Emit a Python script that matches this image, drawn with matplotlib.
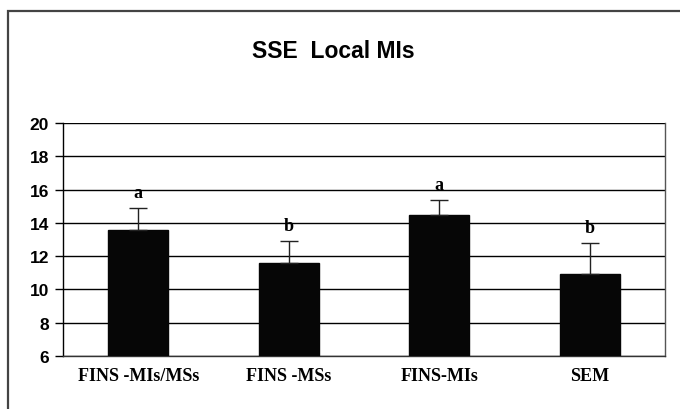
import matplotlib.pyplot as plt
from matplotlib.patches import Rectangle

groups = ["FINS -MIs/MSs", "FINS -MSs", "FINS-MIs", "SEM"]
means = [13.6, 11.6, 14.5, 10.9]
errors = [1.3, 1.3, 0.85, 1.9]
letters = ["a", "b", "a", "b"]
yticks = [6, 8, 10, 12, 14, 16, 18, 20]

fig = plt.figure(figsize=(6.8, 4.1), dpi=100, facecolor="white")

# outer chart frame (only top and left edges fall inside the image)
fig.add_artist(Rectangle((8 / 680, -0.2), 1.5, (410 - 12) / 410 + 0.2,
                         transform=fig.transFigure, fill=False,
                         edgecolor="#444444", linewidth=1.6))

ax = fig.add_axes([63 / 680, (410 - 357) / 410, 602 / 680, 233 / 410])
x = range(len(groups))
ax.bar(x, means, width=0.4, color="#060606", edgecolor="#060606",
       zorder=3)
ax.errorbar(x, means, yerr=[[0] * len(errors), errors], fmt="none",
            ecolor="#222222", elinewidth=1, capsize=6.5, capthick=1, zorder=4)

for xi, m, e, lab in zip(x, means, errors, letters):
    ax.annotate(lab, (xi, m + e), xytext=(0, 5), textcoords="offset points",
                ha="center", va="bottom", fontsize=13, fontweight="bold",
                family="Liberation Serif")

ax.set_xlim(-0.5, len(groups) - 0.5)
ax.set_ylim(6, 20)
ax.set_yticks(yticks)
ax.set_yticklabels([str(t) for t in yticks], fontsize=12.5, fontweight="bold",
                   family="Liberation Sans")
ax.set_xticks(list(x))
ax.set_xticklabels(groups, fontsize=13, fontweight="bold",
                   family="Liberation Serif")
ax.tick_params(axis="x", length=0, pad=8)
ax.tick_params(axis="y", length=6, width=1, pad=4)
ax.yaxis.grid(True, color="black", linewidth=1)
ax.set_axisbelow(True)

ax.spines["top"].set_visible(False)
ax.spines["left"].set_color("black")
ax.spines["bottom"].set_color("#333333")
ax.spines["right"].set_color("#555555")
for s in ax.spines.values():
    s.set_linewidth(1)

fig.text(333 / 680, (410 - 52) / 410, "SSE  Local MIs", ha="center",
         va="center", fontsize=16.5, fontweight="bold",
         family="Liberation Sans")

fig.savefig("out.png", dpi=100, facecolor="white")
